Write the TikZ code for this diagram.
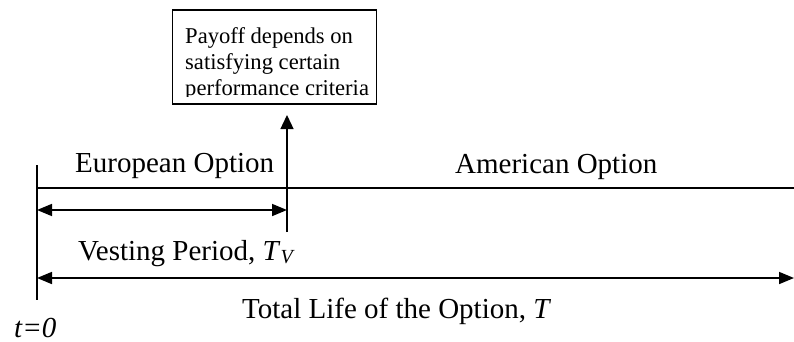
\documentclass[tikz,border=0pt]{standalone}
\usepackage{fontspec}
\setmainfont{Liberation Serif}
\usetikzlibrary{arrows.meta}

\tikzset{
  lbl/.style={font=\fontsize{29}{34}\selectfont, anchor=base west, inner sep=0pt},
  tick/.style={line width=1.5pt},
  span/.style={line width=1.6pt, {Triangle[length=15pt,width=12pt]}-{Triangle[length=15pt,width=12pt]}},
}

\begin{document}
\begin{tikzpicture}[x=1pt,y=-1pt,line cap=butt]
  \useasboundingbox (0,0) rectangle (794,341);
  % time axis
  \coordinate (O) at (37,188);
  \coordinate (tvtop) at (287,115);
  \coordinate (tvbot) at (287,232);
  \coordinate (tend) at (794,188);
  \draw[tick] (37,165) coordinate (otop) -- (37,300) coordinate (obot);
  \draw[line width=1.6pt] (O) -- (tend);
  % vesting date, arrow up to the box
  \draw[line width=1.3pt, -{Triangle[length=14pt,width=13pt]}] (tvbot) -- (tvtop);

  \node[draw, line width=1.3pt, minimum width=204pt, minimum height=94pt, inner sep=0pt] (payoff) at (274.7,57) {};
  \begin{scope}
    \clip (payoff.north west) rectangle ([yshift=8pt]payoff.south east);
    \node[anchor=north west, align=left, inner sep=0pt,
          font=\fontsize{22.6}{26}\selectfont] (payofftext) at (185,27.6)
      {Payoff depends on\\satisfying certain\\performance criteria};
  \end{scope}

  \node[lbl] (euro) at (75,172) {European Option};
  \node[lbl] (amer) at (455,173) {American Option};

  % periods
  \coordinate (vl) at (37,210);
  \coordinate (vr) at (287,210);
  \draw[span] (vl) -- (vr);
  \node[lbl] (vest) at (78,260) {Vesting Period, \textit{T}\raisebox{-0.28ex}{\fontsize{20}{22}\selectfont\itshape V}};

  \coordinate (ll) at (37,278);
  \coordinate (lr) at (794,278);
  \draw[span] (ll) -- (lr);
  \node[lbl] (life) at (242,318) {Total Life of the Option, \textit{T}};

  \node[lbl] (zero) at (14,337) {\textit{t=0}};
\end{tikzpicture}
\end{document}
